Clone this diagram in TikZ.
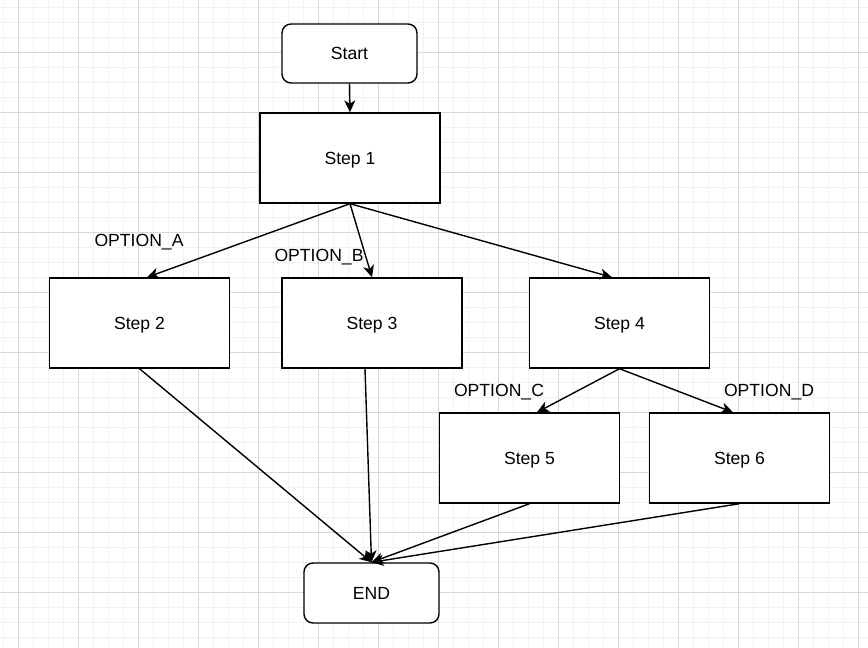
\documentclass[tikz,border=0pt]{standalone}
\usepackage{fontspec}
\setmainfont{Liberation Sans}
\usetikzlibrary{arrows.meta}
\definecolor{minorgrid}{HTML}{F2F2F2}
\definecolor{majorgrid}{HTML}{D8D8D8}
\begin{document}
\begin{tikzpicture}[x=1pt,y=-1pt,
  box/.style={draw,line width=1.4pt,minimum width=180pt,minimum height=90pt,inner sep=0pt,fill=white},
  term/.style={draw,line width=1.4pt,rounded corners=9pt,minimum width=135pt,minimum height=59pt,inner sep=0pt,fill=white},
  conn/.style={line width=1.4pt,-{Stealth[length=12pt,width=11pt,inset=3.5pt]}},
  lbl/.style={inner sep=0pt},
  every node/.style={font=\fontsize{17.6}{19}\selectfont,text height=12.6pt,text depth=0pt}]
\useasboundingbox (0,0) rectangle (868,648);
\fill[white] (0,0) rectangle (868,648);
\foreach \x in {3,18,...,868} \draw[minorgrid,line width=0.8pt] (\x,0) -- (\x,648);
\foreach \y in {7,22,...,648} \draw[minorgrid,line width=0.8pt] (0,\y) -- (868,\y);
\foreach \x in {18,78,...,868} \draw[majorgrid,line width=0.8pt] (\x,0) -- (\x,648);
\foreach \y in {52,112,...,648} \draw[majorgrid,line width=0.8pt] (0,\y) -- (868,\y);

\node[term] (start) at (349.5,53.5) {Start};
\node[box] (s1) at (350,158) {Step 1};
\node[box] (s2) at (139.5,323) {Step 2};
\node[box] (s3) at (372,323) {Step 3};
\node[box] (s4) at (619.5,323) {Step 4};
\node[box] (s5) at (529.5,458) {Step 5};
\node[box] (s6) at (739.5,458) {Step 6};
\node[term,minimum height=60pt] (end) at (371.5,593) {END};

\node[lbl] (la) at (139,240) {OPTION\_A};
\node[lbl] (lb) at (319,255) {OPTION\_B};
\node[lbl] (lc) at (499,390) {OPTION\_C};
\node[lbl] (ld) at (769,390) {OPTION\_D};

\draw[conn] (start.south) -- (s1.north);
\draw[conn] (s1.south) -- ([xshift=7.5pt]s2.north);
\draw[conn] (s1.south) -- (s3.north);
\draw[conn] (s1.south) -- ([xshift=-7.5pt]s4.north);
\draw[conn] (s4.south) -- ([xshift=7.5pt]s5.north);
\draw[conn] (s4.south) -- ([xshift=-6.5pt]s6.north);
\draw[conn] (s2.south) -- (end.north);
\draw[conn] ([xshift=-7pt]s3.south) -- (end.north);
\draw[conn] (s5.south) -- (end.north);
\draw[conn] (s6.south) -- (end.north);
\end{tikzpicture}
\end{document}
